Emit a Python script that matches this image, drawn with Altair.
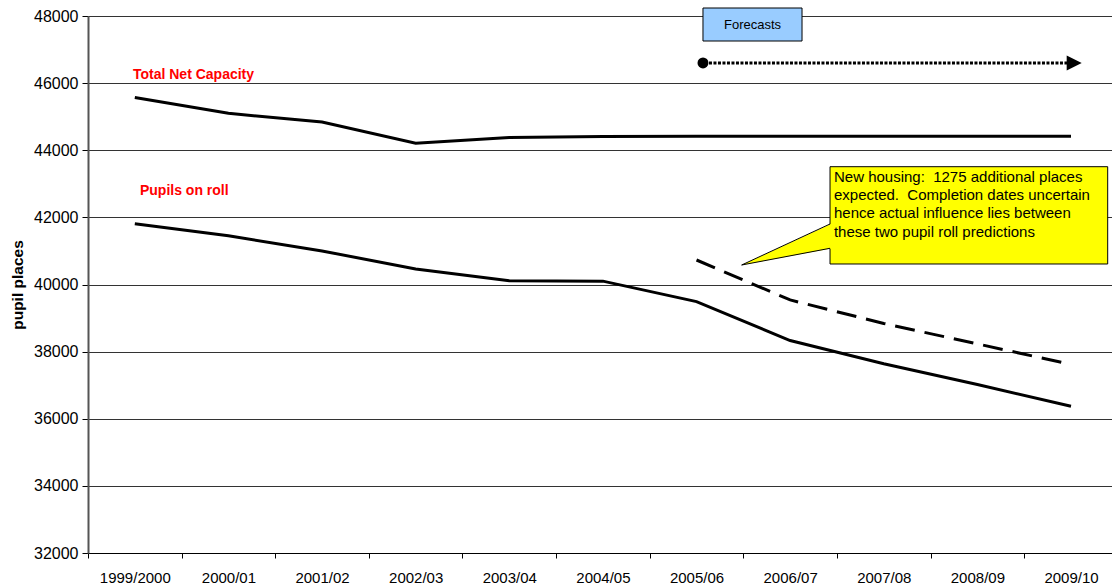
import altair as alt
import pandas as pd

# School years on the horizontal axis
years = ["1999/2000", "2000/01", "2001/02", "2002/03", "2003/04", "2004/05",
         "2005/06", "2006/07", "2007/08", "2008/09", "2009/10"]

# Total net capacity (pupil places)
net_capacity = [45570, 45100, 44840, 44210, 44380, 44410, 44420, 44420, 44420, 44420, 44420]

# Pupils on roll, base projection
pupils_on_roll = [41810, 41450, 41000, 40460, 40110, 40100, 39490, 38330, 37640, 37020, 36370]

# Pupils on roll including new housing, from 2005/06
housing_years = ["2005/06", "2006/07", "2007/08", "2008/09", "2009/10"]
pupils_with_housing = [40730, 39540, 38840, 38230, 37620]

y_ticks = [32000, 34000, 36000, 38000, 40000, 42000, 44000, 46000, 48000]

FONT = "Liberation Sans"

idx = {y: i for i, y in enumerate(years)}
cap_df = pd.DataFrame({"pos": [idx[y] for y in years], "value": net_capacity})
roll_df = pd.DataFrame({"pos": [idx[y] for y in years], "value": pupils_on_roll})
housing_df = pd.DataFrame({"pos": [idx[y] for y in housing_years], "value": pupils_with_housing})

# Categories sit on integer positions; the plot is cut a little short on the right
x_scale = alt.Scale(domain=[-0.5, 10.438], nice=False, zero=False)
y_scale = alt.Scale(domain=[32000, 48000], nice=False, zero=False)

label_list = "[" + ",".join("'" + y + "'" for y in years) + "]"
x_axis = alt.Axis(
    values=[i - 0.5 for i in range(len(years))],
    labelExpr=label_list + "[round(datum.value + 0.5)]",
    labelOffset=46.8, labelFlush=False, labelOverlap=False,
    grid=False, tickSize=5, tickColor="black", domainColor="black", domainWidth=1,
    labelFontSize=15, labelFont=FONT, labelColor="black", labelPadding=12,
    title=None,
)
y_axis = alt.Axis(
    values=y_ticks, format="d", grid=True, gridColor="#333333", gridWidth=1,
    domainColor="#555555", domainWidth=2, tickColor="black", tickSize=6,
    labelFontSize=16, labelFont=FONT, labelColor="black", labelPadding=4,
    title="pupil places", titleFont=FONT, titleFontSize=15.5, titleFontWeight="bold",
    titleColor="black", titlePadding=8,
)


def X(field):
    return alt.X(field, type="quantitative", scale=x_scale, axis=x_axis)


def Y(field):
    return alt.Y(field, type="quantitative", scale=y_scale, axis=y_axis)


cap_line = alt.Chart(cap_df).mark_line(color="black", strokeWidth=3).encode(
    x=X("pos"), y=Y("value"))
roll_line = alt.Chart(roll_df).mark_line(color="black", strokeWidth=3).encode(
    x=X("pos"), y=Y("value"))
housing_line = alt.Chart(housing_df).mark_line(
    color="black", strokeWidth=3, strokeDash=[20, 10]).encode(x=X("pos"), y=Y("value"))

# Series labels
labels_df = pd.DataFrame({
    "pos": [-0.02, 0.055],
    "value": [46123, 42667],
    "label": ["Total Net Capacity", "Pupils on roll"],
})
series_labels = alt.Chart(labels_df).mark_text(
    align="left", baseline="alphabetic", color="#FF0000", fontWeight="bold",
    fontSize=14, font=FONT,
).encode(x=X("pos"), y=Y("value"), text="label:N")

# "Forecasts" box and arrow
fc_box_df = pd.DataFrame({"x1": [6.069], "x2": [7.127], "y1": [48238], "y2": [47255]})
fc_box = alt.Chart(fc_box_df).mark_rect(
    fill="#99CCFF", stroke="black", strokeWidth=1).encode(
    x=X("x1"), x2="x2", y=Y("y1"), y2="y2")
fc_text_df = pd.DataFrame({"pos": [6.598], "value": [47746], "label": ["Forecasts"]})
fc_text = alt.Chart(fc_text_df).mark_text(
    align="center", baseline="middle", fontSize=13, font=FONT, color="black").encode(
    x=X("pos"), y=Y("value"), text="label:N")

arrow_y = 46600
dot_df = pd.DataFrame({"pos": [6.069], "value": [arrow_y]})
dot = alt.Chart(dot_df).mark_point(
    shape="circle", filled=True, size=120, color="black", opacity=1).encode(
    x=X("pos"), y=Y("value"))
shaft_df = pd.DataFrame({"pos": [6.133, 9.96], "value": [arrow_y, arrow_y]})
shaft = alt.Chart(shaft_df).mark_line(
    color="black", strokeWidth=3, strokeDash=[3, 1.5]).encode(x=X("pos"), y=Y("value"))
head_df = pd.DataFrame({"pos": [10.034], "value": [arrow_y]})
head = alt.Chart(head_df).mark_point(
    shape="M-1,-1L1,0L-1,1Z", filled=True, size=225, color="black", opacity=1).encode(
    x=X("pos"), y=Y("value"))

# New housing callout
callout_box_df = pd.DataFrame({"x1": [7.426], "x2": [10.392], "y1": [43510], "y2": [40611]})
callout_box = alt.Chart(callout_box_df).mark_rect(
    fill="#FFFF00", stroke="black", strokeWidth=1).encode(
    x=X("x1"), x2="x2", y=Y("y1"), y2="y2")
pointer_df = pd.DataFrame({"pos": [6.482, 7.44], "top": [40581, 41810], "bottom": [40581, 41072]})
pointer = alt.Chart(pointer_df).mark_area(color="#FFFF00", opacity=1).encode(
    x=X("pos"), y=Y("top"), y2="bottom")
edges_df = pd.DataFrame({
    "x1": [6.482, 6.482], "x2": [7.426, 7.426],
    "y1": [40581, 40581], "y2": [41803, 41079],
})
edges = alt.Chart(edges_df).mark_rule(color="black", strokeWidth=1).encode(
    x=X("x1"), x2="x2", y=Y("y1"), y2="y2")
callout_text_df = pd.DataFrame({
    "pos": [7.468], "value": [43063],
    "label": ["New housing:\u00a0 1275 additional places\n"
              "expected.\u00a0 Completion dates uncertain\n"
              "hence actual influence lies between\n"
              "these two pupil roll predictions"],
})
callout_text = alt.Chart(callout_text_df).mark_text(
    align="left", baseline="alphabetic", fontSize=15, font=FONT, color="black",
    lineBreak="\n", lineHeight=18.3).encode(x=X("pos"), y=Y("value"), text="label:N")

chart = alt.layer(
    cap_line, roll_line, housing_line, series_labels,
    fc_box, fc_text, shaft, dot, head,
    callout_box, pointer, edges, callout_text,
).properties(
    width=1024, height=537,
    autosize=alt.AutoSizeParams(type="none"),
    padding={"left": 88, "top": 16, "right": 0, "bottom": 31},
    background="white",
).configure_view(strokeWidth=0).configure(font=FONT)

chart.save("out.html", embed_options={"renderer": "svg", "actions": False})
